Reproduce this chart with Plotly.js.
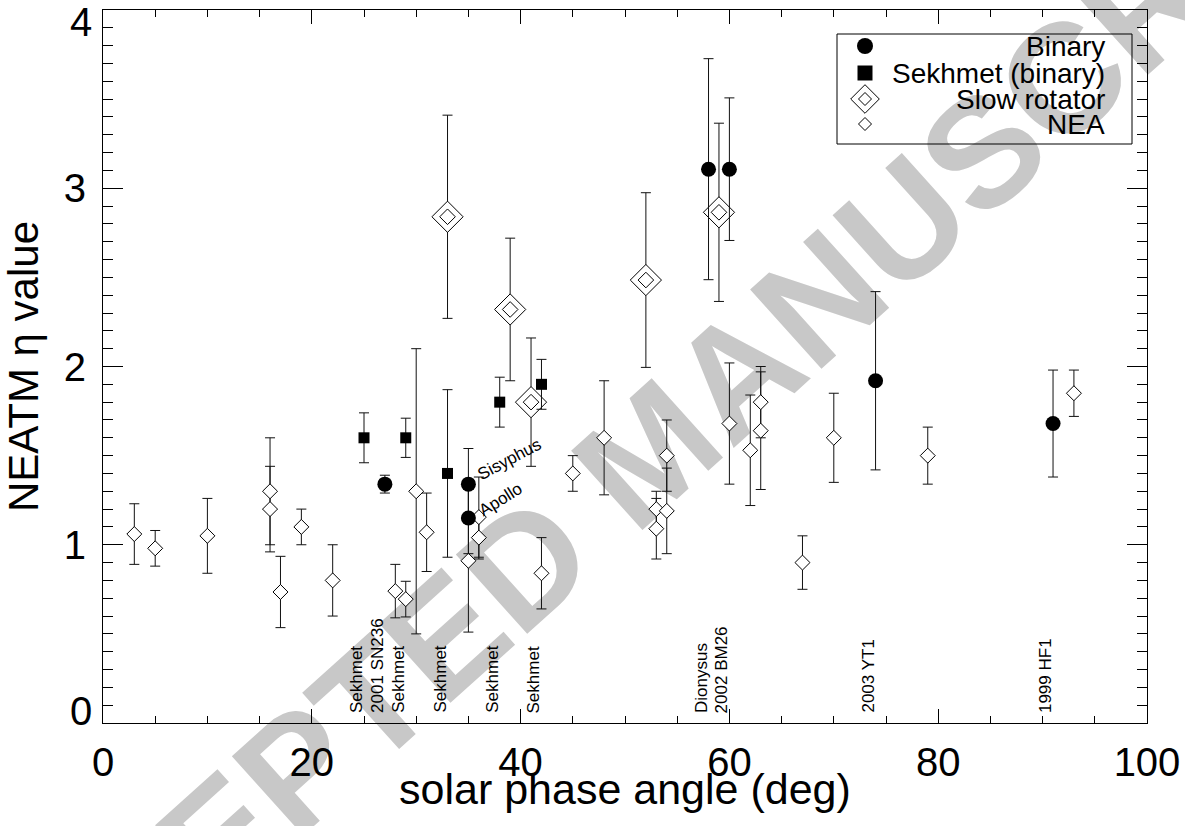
<!DOCTYPE html>
<html>
<head>
<meta charset="utf-8">
<script src="https://cdn.plot.ly/plotly-3.0.1.min.js"></script>
<style>html,body{margin:0;padding:0;background:#fff;}#chart{width:1185px;height:826px;}</style>
</head>
<body>
<div id="chart"></div>
<script>
// ---- data ----
const neaX = [3,5,10,16,16,17,19,22,28,29,30,31,35,36,36,42,45,48,53,53,54,54,60,62,63,63,67,70,79,93];
const neaY = [1.06,0.98,1.05,1.30,1.20,0.735,1.10,0.80,0.74,0.695,1.30,1.07,0.91,1.155,1.04,0.84,1.40,1.60,1.20,1.09,1.50,1.19,1.68,1.53,1.80,1.64,0.90,1.60,1.50,1.85];
const neaErr = [0.17,0.10,0.21,0.30,0.24,0.20,0.10,0.20,0.15,0.10,0.80,0.22,0.40,0.225,0.12,0.20,0.10,0.32,0.10,0.17,0.20,0.24,0.34,0.31,0.20,0.33,0.15,0.25,0.16,0.13];

const slowX = [33,39,41,52,59];
const slowY = [2.84,2.32,1.80,2.485,2.865];
const slowErr = [0.57,0.40,0.36,0.49,0.50];

const binX = [27,35,35,58,60,74,91];
const binY = [1.34,1.34,1.15,3.107,3.107,1.92,1.68];
const binErr = [0.05,0.20,0.20,0.62,0.40,0.50,0.30];

const sekX = [25,29,33,38,42];
const sekY = [1.60,1.60,1.40,1.80,1.90];
const sekErr = [0.14,0.11,0.47,0.14,0.14];

const nameLabels = ["Sekhmet","2001 SN236","Sekhmet","Sekhmet","Sekhmet","Sekhmet","Dionysus","2002 BM26","2003 YT1","1999 HF1"];
const nameX = [25,27,29,33,38,42,58,60,74,91];

const pointLabels = ["Sisyphus","Apollo"];
const pointLabelX = [38.9,38.1];
const pointLabelY = [1.478,1.254];

const seriesNames = ["Binary","Sekhmet (binary)","Slow rotator","NEA"];
const xTickVals = [0,20,40,60,80,100];
const xTickText = ["0","20","40","60","80","100"];
const yTickVals = [0,1,2,3,4];
const yTickText = ["0","1","2","3","4"];
const xTitle = "solar phase angle (deg)";
const yTitle = "NEATM \u03b7 value";
const watermark = "ACCEPTED MANUSCRIPT";

// ---- chart ----
const FONT = "Liberation Sans, Arial, Helvetica, sans-serif";
function errBar(arr){ return {type:'data', array:arr, symmetric:true, color:'#111', thickness:1, width:5}; }

const traces = [
  {x:neaX, y:neaY, type:'scatter', mode:'markers', name:seriesNames[3], showlegend:false,
   error_y:errBar(neaErr),
   marker:{symbol:'diamond', size:11.5, color:'#fff', line:{color:'#000', width:1}}},
  {x:slowX, y:slowY, type:'scatter', mode:'markers', name:seriesNames[2], showlegend:false,
   error_y:errBar(slowErr),
   marker:{symbol:'diamond', size:24, color:'#fff', line:{color:'#000', width:1}}},
  {x:slowX, y:slowY, type:'scatter', mode:'markers', name:seriesNames[2], showlegend:false,
   marker:{symbol:'diamond', size:12, color:'#fff', line:{color:'#000', width:1}}},
  {x:sekX, y:sekY, type:'scatter', mode:'markers', name:seriesNames[1], showlegend:false,
   error_y:errBar(sekErr),
   marker:{symbol:'square', size:11, color:'#000', line:{width:0}}},
  {x:binX, y:binY, type:'scatter', mode:'markers', name:seriesNames[0], showlegend:false,
   error_y:errBar(binErr),
   marker:{symbol:'circle', size:15, color:'#000', line:{width:0}}}
];

// ---- legend key (drawn on a hidden pixel-scaled overlay axis) ----
const keyRows = [36,63,89,114];          // row centres (px from top of plot area)
const keyStyles = [
  [{symbol:'circle', size:16, color:'#000', line:{width:0}}],
  [{symbol:'square', size:15, color:'#000', line:{width:0}}],
  [{symbol:'diamond', size:22, color:'#fff', line:{color:'#000', width:1}},
   {symbol:'diamond', size:10, color:'#fff', line:{color:'#000', width:1}}],
  [{symbol:'diamond', size:10, color:'#fff', line:{color:'#000', width:1}}]
];
keyStyles.forEach((styles,i)=>{
  styles.forEach(m=>{
    traces.push({x:[762], y:[keyRows[i]], xaxis:'x2', yaxis:'y2', type:'scatter', mode:'markers',
      marker:m, showlegend:false, hoverinfo:'skip', name:seriesNames[i]});
  });
});

const annotations = [];
nameLabels.forEach((t,i)=>{
  annotations.push({x:nameX[i], y:0, xref:'x', yref:'y', text:t, showarrow:false,
    textangle:-90, xanchor:'right', yanchor:'bottom', xshift:4, yshift:8,
    font:{family:FONT, size:17, color:'#000'}});
});
const pointAngles = [-28,-32];
pointLabels.forEach((t,i)=>{
  annotations.push({x:pointLabelX[i], y:pointLabelY[i], xref:'x', yref:'y', text:t, showarrow:false,
    textangle:pointAngles[i], xanchor:'center', yanchor:'middle',
    font:{family:FONT, size:17, color:'#000'}});
});
seriesNames.forEach((t,i)=>{
  annotations.push({x:1004, y:keyRows[i], xref:'x2', yref:'y2', text:t, showarrow:false,
    xanchor:'right', yanchor:'middle', font:{family:FONT, size:28, color:'#000'}});
});
// end y tick labels (IDL style: pulled inside the axis range)
annotations.push({x:0, y:yTickVals[0], xref:'paper', yref:'y', text:yTickText[0], showarrow:false,
  xanchor:'right', yanchor:'middle', xshift:-9, yshift:12, font:{family:FONT, size:40, color:'#000'}});
annotations.push({x:0, y:yTickVals[4], xref:'paper', yref:'y', text:yTickText[4], showarrow:false,
  xanchor:'right', yanchor:'middle', xshift:-9, yshift:-12, font:{family:FONT, size:40, color:'#000'}});
// x axis title
annotations.push({x:0.5, y:-0.093, xref:'paper', yref:'paper', text:xTitle, showarrow:false,
  xanchor:'center', yanchor:'middle', font:{family:FONT, size:43, color:'#000'}});

const axisCommon = {
  showline:true, linecolor:'#000', linewidth:1, mirror:'ticks',
  ticks:'inside', tickcolor:'#000', tickwidth:1,
  showgrid:false, zeroline:false,
  tickfont:{family:FONT, size:40, color:'#000'}
};

const layout = {
  width:1185, height:826,
  margin:{l:103, r:38, t:10, b:103},
  paper_bgcolor:'#fff', plot_bgcolor:'rgba(0,0,0,0)',
  font:{family:FONT, color:'#000'},
  showlegend:false,
  xaxis:Object.assign({}, axisCommon, {
    range:[0,100], tickmode:'array', tickvals:xTickVals, ticktext:xTickText,
    ticklen:14, ticklabelstandoff:4,
    minor:{dtick:5, tick0:0, ticklen:7, ticks:'inside', tickcolor:'#000', tickwidth:1}
  }),
  yaxis:Object.assign({}, axisCommon, {
    range:[0,4], tickmode:'array', tickvals:yTickVals, ticktext:['',yTickText[1],yTickText[2],yTickText[3],''],
    ticklen:20, ticklabelstandoff:8,
    minor:{dtick:0.1, tick0:0, ticklen:10, ticks:'inside', tickcolor:'#000', tickwidth:1},
    title:{text:yTitle, font:{family:FONT, size:42, color:'#000'}, standoff:12}
  }),
  xaxis2:{domain:[0,1], range:[0,1044], overlaying:'x', anchor:'y2', visible:false, fixedrange:true},
  yaxis2:{domain:[0,1], range:[713,0], overlaying:'y', anchor:'x2', visible:false, fixedrange:true},
  annotations:annotations,
  shapes:[
    {type:'rect', xref:'x2', yref:'y2', x0:734, x1:1029, y0:24, y1:134,
     line:{color:'#000', width:1}, fillcolor:'rgba(0,0,0,0)', layer:'above'},
    {type:'line', xref:'paper', yref:'paper', x0:0.3008, y0:0.1150, x1:0.7280, y1:0.6788,
     line:{color:'rgba(0,0,0,0)', width:1}, layer:'below',
     label:{text:watermark, textposition:'middle', textangle:-42, yanchor:'middle',
       font:{family:FONT, size:155, color:'#c8c8c8', weight:700}}}
  ]
};

Plotly.newPlot('chart', traces, layout, {staticPlot:true, displayModeBar:false});
</script>
</body>
</html>
